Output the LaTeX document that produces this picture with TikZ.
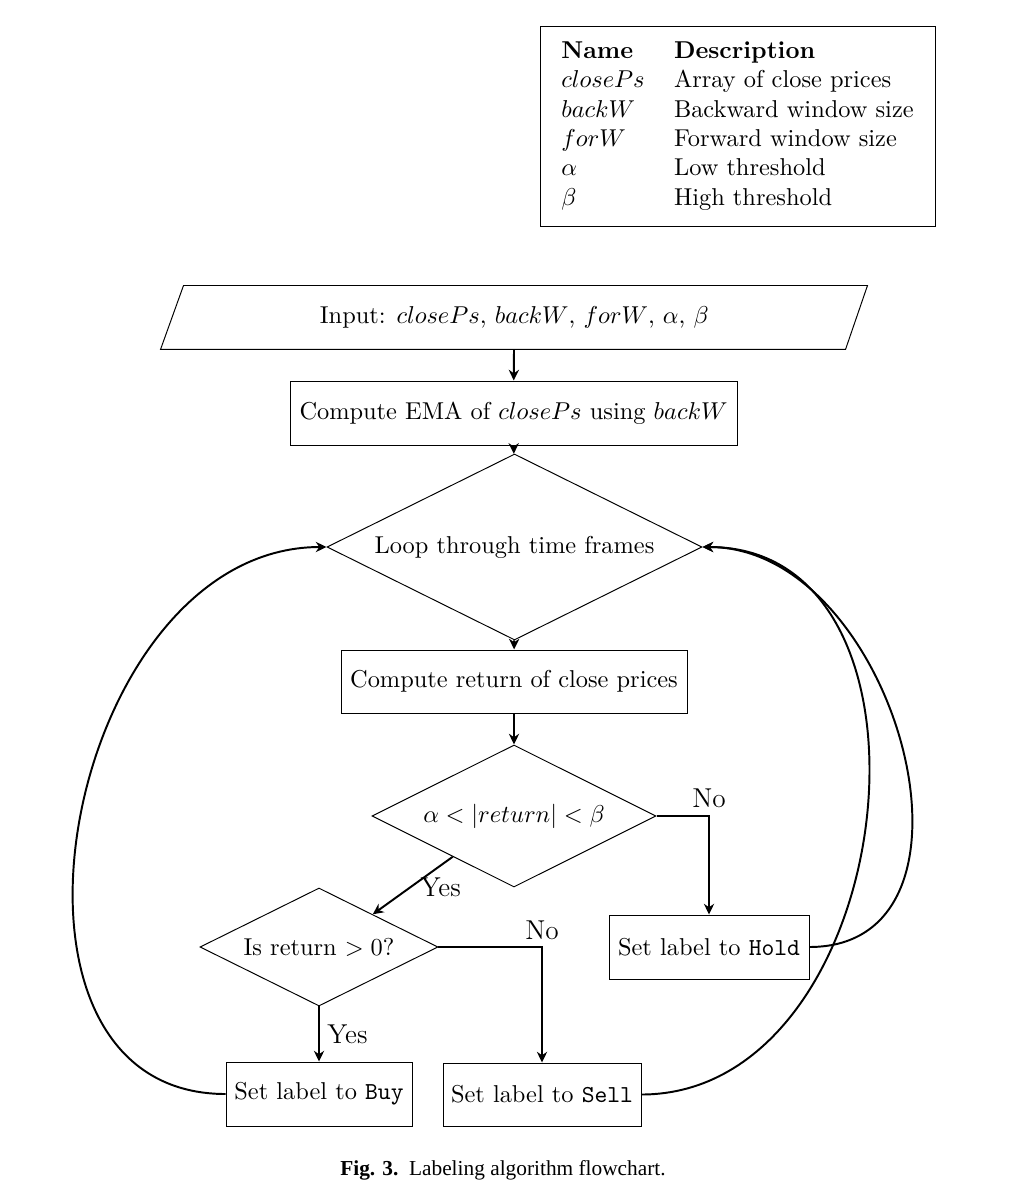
\documentclass[tikz,border=0pt]{standalone}
\usepackage{fontspec}
\newfontfamily\capfont{Liberation Serif}
\usetikzlibrary{shapes.geometric,arrows.meta,calc}
\def\u{0.41pt}
\begin{document}
\begin{tikzpicture}[x=\u,y=-\u,
  box/.style={draw,line width=0.4pt,inner sep=0pt,align=center},
  dia/.style={draw,diamond,aspect=2,line width=0.4pt,inner sep=0pt,align=center},
  conn/.style={line width=0.8pt,-{Stealth[length=4.4pt,width=4.2pt]}},
  lbl/.style={inner sep=1.5pt,font=\fontsize{11.2}{13}\selectfont}]
\useasboundingbox (0,0) rectangle (1009,1195);
% legend table
\node[draw,line width=0.4pt,minimum width={395*\u},minimum height={200*\u},inner sep=3pt] (legend) at (737.5,126)
  {\begin{tabular}{@{}ll@{}}
   \textbf{Name} & \textbf{Description}\\
   $closePs$ & Array of close prices\\
   $backW$ & Backward window size\\
   $forW$ & Forward window size\\
   $\alpha$ & Low threshold\\
   $\beta$ & High threshold
   \end{tabular}};
% flowchart
\node[inner sep=0pt,minimum width={683.5*\u},minimum height={63*\u}] (input) at (514.25,317.5)
  {Input: $closePs$, $backW$, $forW$, $\alpha$, $\beta$};
\draw[line width=0.4pt] ($(input.south west)+(-11.5,0)$) -- ($(input.north west)+(11.5,0)$)
  -- ($(input.north east)+(11,0)$) -- ($(input.south east)+(-11,0)$) -- cycle;
\node[box,minimum width={447*\u},minimum height={64*\u}] (ema) at (513.5,413) {Compute EMA of $closePs$ using $backW$};
\node[dia,minimum width={375*\u},minimum height={186*\u}] (loop) at (514.5,547) {Loop through time frames};
\node[box,minimum width={346*\u},minimum height={63*\u}] (ret) at (514,681.5) {Compute return of close prices};
\node[dia,minimum width={284*\u},minimum height={142*\u}] (d2) at (514,816) {$\alpha<|return|<\beta$};
\node[dia,minimum width={238*\u},minimum height={118*\u}] (d3) at (319,947) {Is return $>0$?};
\node[box,minimum width={200*\u},minimum height={64*\u}] (hold) at (709,947) {Set label to \texttt{Hold}};
\node[box,minimum width={186*\u},minimum height={64*\u}] (buy) at (319,1094) {Set label to \texttt{Buy}};
\node[box,minimum width={198*\u},minimum height={63*\u}] (sell) at (542,1094.5) {Set label to \texttt{Sell}};
% connectors
\draw[conn] (input) -- (ema);
\draw[conn] (ema) -- (loop);
\draw[conn] (loop) -- (ret);
\draw[conn] (ret) -- (d2);
\draw[conn] ($(d2.west)!0.57!(d2.south)$) -- node[lbl,pos=0.5,anchor=west,xshift=1.3pt,yshift=-0.8pt] {Yes} ($(d3.north)!0.45!(d3.east)$);
\draw[conn] (d2.east) -| node[lbl,pos=0.5,above,yshift=1.5pt] {No} (hold.north);
\draw[conn] (d3.east) -| node[lbl,pos=0.5,above,yshift=1pt] {No} (sell.north);
\draw[conn] (d3.south) -- node[lbl,midway,right,xshift=1.5pt] {Yes} (buy.north);
\draw[conn] (buy.west) to[out=180,in=180,looseness=1.2] (loop.west);
\draw[conn] (sell.east) to[out=0,in=0,looseness=1.2] (loop.east);
\draw[conn] (hold.east) to[out=0,in=0,looseness=1.2] (loop.east);
% caption
\node (cap) at (503,1170) {\capfont\fontsize{8.75}{10}\selectfont\textbf{Fig. 3.}\hspace{0.5em}Labeling algorithm flowchart.};
\end{tikzpicture}
\end{document}
